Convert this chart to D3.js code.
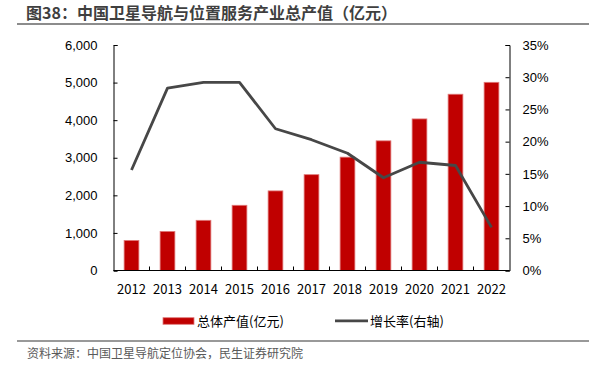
<!DOCTYPE html>
<html>
<head>
<meta charset="utf-8">
<script src="https://cdn.jsdelivr.net/npm/d3@7"></script>
<style>
  html, body { margin: 0; padding: 0; background: #fff; }
  svg { display: block; font-family: "Noto Sans CJK SC", "Noto Sans", sans-serif; }
</style>
</head>
<body>
<div id="chart"></div>
<script>
/* ---------- data ---------- */
const years = ['2012', '2013', '2014', '2015', '2016', '2017', '2018', '2019', '2020', '2021', '2022'];
const outputValues = [800, 1040, 1335, 1735, 2118, 2550, 3016, 3450, 4033, 4690, 5007];
const growthRates = [15.6, 28.3, 29.2, 29.2, 22.0, 20.3, 18.2, 14.4, 16.8, 16.3, 6.7];
const leftTicks = [0, 1000, 2000, 3000, 4000, 5000, 6000];
const rightTicks = [0, 5, 10, 15, 20, 25, 30, 35];

const titleText = '图38：中国卫星导航与位置服务产业总产值（亿元）';
const sourceText = '资料来源：中国卫星导航定位协会，民生证券研究院';
const barLabel = '总体产值(亿元)';
const lineLabel = '增长率(右轴)';

(function () {
  const W = 595, H = 365;
  const plot = { left: 113.5, right: 509.5, top: 45, bottom: 270.5 };
  const barColor = '#c00000';
  const lineColor = '#474747';

  const svg = d3.select('#chart').append('svg')
    .attr('width', W)
    .attr('height', H)
    .attr('viewBox', `0 0 ${W} ${H}`);

  // title + rules
  svg.append('text')
    .attr('x', 26).attr('y', 18.5)
    .attr('font-size', 16).attr('font-weight', 'bold')
    .attr('fill', '#3f3f3f')
    .text(titleText);
  svg.append('line')
    .attr('x1', 17).attr('x2', 589).attr('y1', 24).attr('y2', 24)
    .attr('stroke', '#666').attr('stroke-width', 1.6);
  svg.append('line')
    .attr('x1', 17).attr('x2', 589).attr('y1', 341).attr('y2', 341)
    .attr('stroke', '#777').attr('stroke-width', 1.3);
  svg.append('text')
    .attr('x', 27).attr('y', 358)
    .attr('font-size', 12).attr('fill', '#595959')
    .text(sourceText);

  /* ---------- scales ---------- */
  const x = d3.scaleBand().domain(years).range([plot.left, plot.right]).paddingInner(0.59).paddingOuter(0.295);
  const xStep = d3.scaleBand().domain(years).range([plot.left, plot.right]);
  const yL = d3.scaleLinear().domain([0, 6000]).range([plot.bottom, plot.top]);
  const yR = d3.scaleLinear().domain([0, 35]).range([plot.bottom, plot.top]);

  // bars
  svg.append('g').selectAll('rect')
    .data(years.map((yr, i) => ({ yr, v: outputValues[i] })))
    .join('rect')
    .attr('x', d => x(d.yr))
    .attr('width', x.bandwidth())
    .attr('y', d => yL(d.v))
    .attr('height', d => yL(0) - yL(d.v))
    .attr('fill', barColor)
    .attr('stroke', '#e07a7a')
    .attr('stroke-width', 0.8);

  // growth line
  const line = d3.line()
    .x((d, i) => xStep(years[i]) + xStep.bandwidth() / 2)
    .y(d => yR(d));
  svg.append('path')
    .datum(growthRates)
    .attr('d', line)
    .attr('fill', 'none')
    .attr('stroke', lineColor)
    .attr('stroke-width', 2.8)
    .attr('stroke-linejoin', 'round');

  /* ---------- axes ---------- */
  const fmtL = d3.format(',');
  const axisL = svg.append('g')
    .attr('transform', `translate(${plot.left},0)`)
    .call(d3.axisLeft(yL).tickValues(leftTicks).tickFormat(fmtL).tickSizeInner(-4).tickSizeOuter(-4).tickPadding(16));
  const axisR = svg.append('g')
    .attr('transform', `translate(${plot.right},0)`)
    .call(d3.axisRight(yR).tickValues(rightTicks).tickFormat(d => d + '%').tickSizeInner(-4).tickSizeOuter(-4).tickPadding(13));

  // x axis: ticks at category boundaries, labels at centres
  const axisB = svg.append('g').attr('transform', `translate(0,${plot.bottom})`);
  axisB.append('line')
    .attr('x1', plot.left).attr('x2', plot.right)
    .attr('stroke', '#000').attr('stroke-width', 1);
  axisB.selectAll('line.tick')
    .data(years.slice(1))
    .join('line')
    .attr('class', 'tick')
    .attr('x1', d => xStep(d)).attr('x2', d => xStep(d))
    .attr('y1', 0).attr('y2', -4)
    .attr('stroke', '#000');
  axisB.selectAll('text')
    .data(years)
    .join('text')
    .attr('x', d => xStep(d) + xStep.bandwidth() / 2)
    .attr('y', 23.5)
    .attr('text-anchor', 'middle')
    .attr('font-size', 13)
    .attr('fill', '#000')
    .text(d => d);

  [axisL, axisR].forEach(a => {
    a.select('.domain').attr('stroke', '#000');
    a.selectAll('.tick line').attr('stroke', '#000');
    a.selectAll('.tick text').attr('font-size', 13).attr('fill', '#000').attr('font-family', null);
  });

  /* ---------- legend ---------- */
  const lg = svg.append('g').attr('font-size', 13).attr('fill', '#000');
  lg.append('rect')
    .attr('x', 163).attr('y', 317.7).attr('width', 31).attr('height', 6.6)
    .attr('fill', barColor).attr('stroke', '#e07a7a').attr('stroke-width', 0.8);
  lg.append('text').attr('x', 197).attr('y', 325.5).text(barLabel);
  lg.append('line')
    .attr('x1', 335).attr('x2', 368).attr('y1', 320.8).attr('y2', 320.8)
    .attr('stroke', lineColor).attr('stroke-width', 2.8);
  lg.append('text').attr('x', 370).attr('y', 325.5).text(lineLabel);
})();
</script>
</body>
</html>
